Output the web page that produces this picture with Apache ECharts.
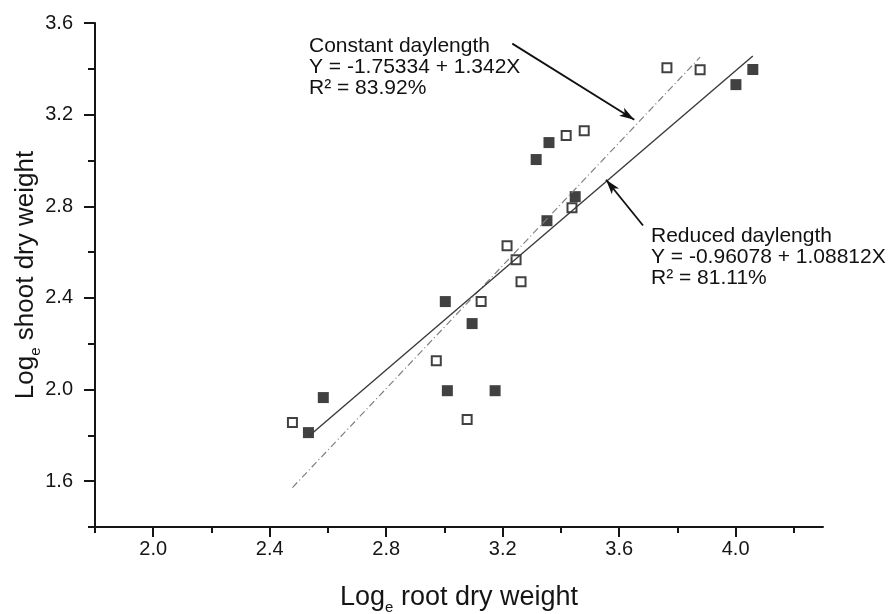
<!DOCTYPE html>
<html>
<head>
<meta charset="utf-8">
<title>Log shoot vs root dry weight</title>
<script src="https://cdn.jsdelivr.net/npm/echarts@6.0.0/dist/echarts.min.js"></script>
<style>
    html, body { margin: 0; padding: 0; background: #fff; }
    #chart { width: 891px; height: 614px; }
</style>
</head>
<body>
<div id="chart"></div>
<script>
// Reduced daylength (filled squares)
var reduced_x = [2.533, 2.584, 3.010, 3.174, 3.003, 3.095, 3.352, 3.449, 3.315, 3.359, 4.001, 4.059];
var reduced_y = [1.812, 1.965, 1.995, 1.995, 2.384, 2.288, 2.737, 2.842, 3.004, 3.078, 3.331, 3.397];

// Constant daylength (open squares)
var constant_x = [2.478, 2.972, 3.078, 3.126, 3.215, 3.246, 3.263, 3.438, 3.418, 3.480, 3.764, 3.878];
var constant_y = [1.856, 2.126, 1.869, 2.384, 2.628, 2.567, 2.471, 2.794, 3.109, 3.130, 3.405, 3.396];

// fitted lines, [intercept, slope] as printed on the chart
var reduced_fit = [-0.96078, 1.08812];
var constant_fit = [-1.75334, 1.342];

// tick labels
var x_major_ticks = [2.0, 2.4, 2.8, 3.2, 3.6, 4.0];
var x_minor_ticks = [1.8, 2.2, 2.6, 3.0, 3.4, 3.8, 4.2];
var y_major_ticks = [1.6, 2.0, 2.4, 2.8, 3.2, 3.6];
var y_minor_ticks = [1.4, 1.8, 2.2, 2.6, 3.0, 3.4];

// annotation arrows (data coords)
var constant_arrow = [[3.233, 3.510], [3.652, 3.178]];
var reduced_arrow = [[3.682, 2.716], [3.555, 2.916]];

var Page = {

    my_chart: null,

    font: 'Liberation Sans',

    axis_color: '#151515',

    init: function () {
        this.my_chart = echarts.init(document.getElementById('chart'));
        this.draw_chart();
    },

    pairs: function (xs, ys) {
        var out = [];
        for (var i = 0; i < xs.length; i++) {
            out.push([xs[i], ys[i]]);
        }
        return out;
    },

    // two end points of a fitted line over the x range of its data
    fit_line: function (xs, fit) {
        var lo = Math.min.apply(null, xs);
        var hi = Math.max.apply(null, xs);
        return [[lo, fit[0] + fit[1] * lo], [hi, fit[0] + fit[1] * hi]];
    },

    arrow: function (pts) {
        return [{ coord: pts[0] }, { coord: pts[1] }];
    },

    // axis with line, labels and name, no ticks
    main_axis: function (min, max, pos, major, name, gap, rot, size) {
        var c = this.axis_color;
        var rich = {
            a: { fontSize: size, fontFamily: this.font, color: c, lineHeight: 34, verticalAlign: 'middle' },
            sub: { fontSize: 15, fontFamily: this.font, color: c, lineHeight: 34, verticalAlign: 'bottom' }
        };
        return {
            type: 'value',
            position: pos,
            min: min,
            max: max,
            splitLine: { show: false },
            axisLine: { show: true, lineStyle: { color: c, width: 2 } },
            axisTick: { show: false },
            axisLabel: {
                customValues: major,
                formatter: function (v) { return v.toFixed(1); },
                fontSize: 20, fontFamily: this.font, color: c,
                margin: rot ? 22 : 12
            },
            name: name,
            nameLocation: 'middle',
            nameGap: gap,
            nameRotate: rot,
            nameMoveOverlap: false,
            nameTextStyle: { rich: rich }
        };
    },

    // axis that only draws ticks
    tick_axis: function (min, max, pos, values, len) {
        var c = this.axis_color;
        return {
            type: 'value',
            position: pos,
            min: min,
            max: max,
            splitLine: { show: false },
            axisLine: { show: false },
            axisTick: { show: true, customValues: values, length: len, lineStyle: { color: c, width: 2 } },
            axisLabel: { show: false }
        };
    },

    draw_chart: function () {
        var that = this;

        var option = {
            animation: false,
            backgroundColor: '#fff',
            grid: { left: 95, right: 68, top: 23, bottom: 87, containLabel: false, outerBoundsMode: 'none' },
            xAxis: [
                that.main_axis(1.8, 4.3, 'bottom', x_major_ticks, '{a|Log}{sub|e}{a| root dry weight}', 54, 0, 27),
                that.tick_axis(1.8, 4.3, 'bottom', x_major_ticks, 10),
                that.tick_axis(1.8, 4.3, 'bottom', x_minor_ticks, 6)
            ],
            yAxis: [
                that.main_axis(1.4, 3.6, 'left', y_major_ticks, '{a|Log}{sub|e}{a| shoot dry weight}', 52, 90, 26),
                that.tick_axis(1.4, 3.6, 'left', y_major_ticks, 11),
                that.tick_axis(1.4, 3.6, 'left', y_minor_ticks, 7)
            ],
            series: [{
                name: 'Constant fit',
                type: 'line',
                data: that.fit_line(constant_x, constant_fit),
                symbol: 'none',
                silent: true,
                lineStyle: { color: '#808080', width: 1.2, type: [7, 3, 1, 3] },
                markLine: {
                    silent: true,
                    symbol: ['none', 'arrow'],
                    symbolSize: [7, 15],
                    label: { show: false },
                    lineStyle: { color: '#111', width: 1.8, type: 'solid' },
                    data: [that.arrow(constant_arrow), that.arrow(reduced_arrow)]
                }
            }, {
                name: 'Reduced fit',
                type: 'line',
                data: that.fit_line(reduced_x, reduced_fit),
                symbol: 'none',
                silent: true,
                lineStyle: { color: '#3a3a3a', width: 1.4 }
            }, {
                name: 'Constant daylength',
                type: 'scatter',
                data: that.pairs(constant_x, constant_y),
                symbol: 'rect',
                symbolSize: 9,
                itemStyle: { color: '#fff', borderColor: '#111', borderWidth: 2 }
            }, {
                name: 'Reduced daylength',
                type: 'scatter',
                data: that.pairs(reduced_x, reduced_y),
                symbol: 'rect',
                symbolSize: 11,
                itemStyle: { color: '#111' }
            }],
            graphic: [{
                type: 'text',
                left: 309,
                top: 36,
                style: {
                    text: 'Constant daylength\nY = -1.75334 + 1.342X\nR\u00b2 = 83.92%',
                    fontSize: 21, fontFamily: that.font, lineHeight: 21, fill: '#111'
                }
            }, {
                type: 'text',
                left: 651,
                top: 226,
                style: {
                    text: 'Reduced daylength\nY = -0.96078 + 1.08812X\nR\u00b2 = 81.11%',
                    fontSize: 21, fontFamily: that.font, lineHeight: 21, fill: '#111'
                }
            }]
        };

        this.my_chart.setOption(option);
    }
};

Page.init();
</script>
</body>
</html>
